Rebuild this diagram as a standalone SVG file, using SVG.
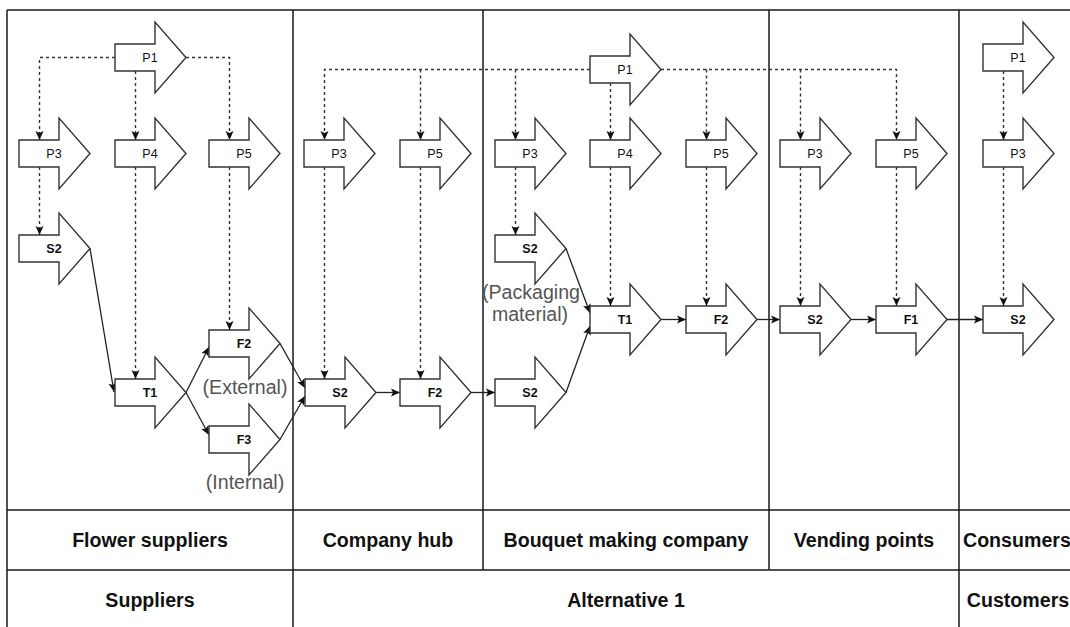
<svg xmlns="http://www.w3.org/2000/svg" xmlns:xlink="http://www.w3.org/1999/xlink" width="1070" height="627" viewBox="0 0 1070 627">
  <style>
    .frame { fill: none; stroke: #1a1a1a; stroke-width: 1.5; }
    .shape { fill: #ffffff; stroke: #333333; stroke-width: 1.4; }
    .lbl { font-family: "Liberation Sans", Arial, sans-serif; font-size: 12.5px; fill: #111111; text-anchor: middle; }
    .lbl.b { font-weight: bold; }
    .lane { font-family: "Liberation Sans", Arial, sans-serif; font-size: 19.6px; font-weight: bold; fill: #111111; text-anchor: middle; }
    .note { font-family: "Liberation Sans", Arial, sans-serif; font-size: 19.6px; fill: #555555; text-anchor: middle; }
    .solid { fill: none; stroke: #222222; stroke-width: 1.3; marker-end: url(#head); }
    .dash { fill: none; stroke: #333333; stroke-width: 1.4; stroke-dasharray: 3 3; }
    .dash.to { marker-end: url(#head); }
  </style>
  <defs>
    <!-- block arrow used for every process step, 71 x 71 -->
    <path id="arrow" d="M0,22 H40 V0 L71,35.5 L40,71 V49 H0 Z"/>
    <marker id="head" markerUnits="userSpaceOnUse" markerWidth="10" markerHeight="10" viewBox="0 0 10 10" refX="9" refY="5" orient="auto">
      <path d="M0,1 L9,5 L0,9 L2,5 Z" fill="#111111" stroke="none"/>
    </marker>
  </defs>

  <!-- swimlane frame -->
  <g id="frame" class="frame">
    <path d="M7,10 H1070 M7,10 V627 M7,510 H1070 M7,570 H1070"/>
    <path d="M293,10 V627 M959,10 V627 M483,10 V570 M769,10 V570"/>
  </g>

  <!-- lane titles -->
  <g id="lanes">
    <text class="lane" x="150" y="547">Flower suppliers</text>
    <text class="lane" x="388" y="547">Company hub</text>
    <text class="lane" x="626" y="547">Bouquet making company</text>
    <text class="lane" x="864" y="547">Vending points</text>
    <text class="lane" x="963" y="547" style="text-anchor:start">Consumers</text>
    <text class="lane" x="150" y="607">Suppliers</text>
    <text class="lane" x="626" y="607">Alternative 1</text>
    <text class="lane" x="1018" y="607">Customers</text>
  </g>

  <!-- connectors -->
  <g id="connectors">
    <!-- information flows (dashed) -->
    <path class="dash to" d="M115,57.5 H39.5 V140"/>
    <path class="dash to" d="M135.5,71 V140"/>
    <path class="dash to" d="M186,57.5 H229.5 V140"/>
    <path class="dash to" d="M39.5,167 V235"/>
    <path class="dash to" d="M135.5,167 V379"/>
    <path class="dash to" d="M229.5,167 V330"/>
    <path class="dash to" d="M590,69.5 H324.5 V140"/>
    <path class="dash to" d="M420.5,69.5 V140"/>
    <path class="dash to" d="M515.5,69.5 V140"/>
    <path class="dash to" d="M610.5,83 V140"/>
    <path class="dash to" d="M661,69.5 H896.5 V140"/>
    <path class="dash to" d="M706.5,69.5 V140"/>
    <path class="dash to" d="M800.5,69.5 V140"/>
    <path class="dash to" d="M324.5,167 V379"/>
    <path class="dash to" d="M420.5,167 V379"/>
    <path class="dash to" d="M515.5,167 V235"/>
    <path class="dash to" d="M610.5,167 V306"/>
    <path class="dash to" d="M706.5,167 V306"/>
    <path class="dash to" d="M800.5,167 V306"/>
    <path class="dash to" d="M896.5,167 V306"/>
    <path class="dash to" d="M1003.5,71 V140"/>
    <path class="dash to" d="M1003.5,167 V306"/>
    <!-- material flows (solid) -->
    <path class="solid" d="M90,248.5 L114,392"/>
    <path class="solid" d="M186,392.5 L209,347"/>
    <path class="solid" d="M186,392.5 L209,435"/>
    <path class="solid" d="M280,343.5 L305,388"/>
    <path class="solid" d="M280,439.5 L305,396"/>
    <path class="solid" d="M376,392.5 H400"/>
    <path class="solid" d="M471,392.5 H495"/>
    <path class="solid" d="M566,248.5 L590,313"/>
    <path class="solid" d="M566,392.5 L590,326"/>
    <path class="solid" d="M661,319.5 H686"/>
    <path class="solid" d="M757,319.5 H780"/>
    <path class="solid" d="M851,319.5 H876"/>
    <path class="solid" d="M947,319.5 H983"/>
  </g>

  <!-- flower suppliers -->
  <g id="sup-p1" transform="translate(115,22)"><use href="#arrow" class="shape"/><text class="lbl" x="35" y="40">P1</text></g>
  <g id="sup-p3" transform="translate(19,118)"><use href="#arrow" class="shape"/><text class="lbl" x="35" y="40">P3</text></g>
  <g id="sup-p4" transform="translate(115,118)"><use href="#arrow" class="shape"/><text class="lbl" x="35" y="40">P4</text></g>
  <g id="sup-p5" transform="translate(209,118)"><use href="#arrow" class="shape"/><text class="lbl" x="35" y="40">P5</text></g>
  <g id="sup-s2" transform="translate(19,213)"><use href="#arrow" class="shape"/><text class="lbl b" x="35" y="40">S2</text></g>
  <g id="sup-t1" transform="translate(115,357)"><use href="#arrow" class="shape"/><text class="lbl b" x="35" y="40">T1</text></g>
  <g id="sup-f2" transform="translate(209,308)"><use href="#arrow" class="shape"/><text class="lbl b" x="35" y="40">F2</text></g>
  <g id="sup-f3" transform="translate(209,404)"><use href="#arrow" class="shape"/><text class="lbl b" x="35" y="40">F3</text></g>

  <!-- company hub -->
  <g id="hub-p3" transform="translate(304,118)"><use href="#arrow" class="shape"/><text class="lbl" x="35" y="40">P3</text></g>
  <g id="hub-p5" transform="translate(400,118)"><use href="#arrow" class="shape"/><text class="lbl" x="35" y="40">P5</text></g>
  <g id="hub-s2" transform="translate(305,357)"><use href="#arrow" class="shape"/><text class="lbl b" x="35" y="40">S2</text></g>
  <g id="hub-f2" transform="translate(400,357)"><use href="#arrow" class="shape"/><text class="lbl b" x="35" y="40">F2</text></g>

  <!-- bouquet making company -->
  <g id="bq-p1" transform="translate(590,34)"><use href="#arrow" class="shape"/><text class="lbl" x="35" y="40">P1</text></g>
  <g id="bq-p3" transform="translate(495,118)"><use href="#arrow" class="shape"/><text class="lbl" x="35" y="40">P3</text></g>
  <g id="bq-p4" transform="translate(590,118)"><use href="#arrow" class="shape"/><text class="lbl" x="35" y="40">P4</text></g>
  <g id="bq-p5" transform="translate(686,118)"><use href="#arrow" class="shape"/><text class="lbl" x="35" y="40">P5</text></g>
  <g id="bq-s2-pack" transform="translate(495,213)"><use href="#arrow" class="shape"/><text class="lbl b" x="35" y="40">S2</text></g>
  <g id="bq-s2" transform="translate(495,357)"><use href="#arrow" class="shape"/><text class="lbl b" x="35" y="40">S2</text></g>
  <g id="bq-t1" transform="translate(590,284)"><use href="#arrow" class="shape"/><text class="lbl b" x="35" y="40">T1</text></g>
  <g id="bq-f2" transform="translate(686,284)"><use href="#arrow" class="shape"/><text class="lbl b" x="35" y="40">F2</text></g>

  <!-- vending points -->
  <g id="vp-p3" transform="translate(780,118)"><use href="#arrow" class="shape"/><text class="lbl" x="35" y="40">P3</text></g>
  <g id="vp-p5" transform="translate(876,118)"><use href="#arrow" class="shape"/><text class="lbl" x="35" y="40">P5</text></g>
  <g id="vp-s2" transform="translate(780,284)"><use href="#arrow" class="shape"/><text class="lbl b" x="35" y="40">S2</text></g>
  <g id="vp-f1" transform="translate(876,284)"><use href="#arrow" class="shape"/><text class="lbl b" x="35" y="40">F1</text></g>

  <!-- consumers -->
  <g id="con-p1" transform="translate(983,22)"><use href="#arrow" class="shape"/><text class="lbl" x="35" y="40">P1</text></g>
  <g id="con-p3" transform="translate(983,118)"><use href="#arrow" class="shape"/><text class="lbl" x="35" y="40">P3</text></g>
  <g id="con-s2" transform="translate(983,284)"><use href="#arrow" class="shape"/><text class="lbl b" x="35" y="40">S2</text></g>

  <!-- notes -->
  <g id="notes">
    <text class="note" x="245" y="394">(External)</text>
    <text class="note" x="245" y="489">(Internal)</text>
    <text class="note" x="531" y="299">(Packaging</text>
    <text class="note" x="530" y="321">material)</text>
  </g>
</svg>
